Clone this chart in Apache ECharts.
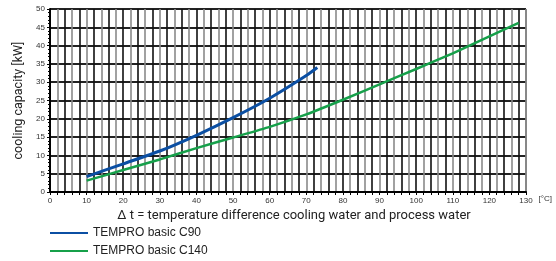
<!DOCTYPE html>
<html>
<head>
<meta charset="utf-8">
<script src="https://cdn.jsdelivr.net/npm/echarts@6/dist/echarts.min.js"></script>
<style>
html, body { margin: 0; padding: 0; background: #fff; }
#chart { width: 556px; height: 261px; }
</style>
</head>
<body>
<div id="chart"></div>
<script>
var chart = echarts.init(document.getElementById("chart"));

var seriesNames = ['TEMPRO basic C90', 'TEMPRO basic C140'];
var c90X = [10, 20, 30, 40, 50, 60, 70, 73];
var c90Y = [4.2, 7.7, 11.2, 15.5, 20.3, 25.6, 31.8, 34];
var c140X = [10, 20, 30, 40, 50, 60, 70, 80, 90, 100, 110, 120, 128];
var c140Y = [3.1, 6.0, 8.9, 12.0, 14.9, 17.8, 21.2, 25.2, 29.4, 33.6, 37.9, 42.5, 46.2];

function pairs(xs, ys) {
    var out = [];
    for (var i = 0; i < xs.length; i++) out.push([xs[i], ys[i]]);
    return out;
}

var labelFont = { fontFamily: 'Liberation Sans', fontSize: 8, color: '#333' };
var legendText = { fontFamily: 'Liberation Sans', fontSize: 12, color: '#222', padding: [0, 0, 0, 0] };

chart.setOption({
    animation: false,
    backgroundColor: '#fff',
    title: {
        text: '\u0394 t = temperature difference cooling water and process water',
        left: 289, top: 204, textAlign: 'center',
        textStyle: { fontFamily: 'Roboto', fontSize: 13, fontWeight: 'normal', color: '#222' }
    },
    legend: [
        { left: 45, top: 222, itemWidth: 38, itemHeight: 2, icon: 'rect', textStyle: legendText, data: [seriesNames[0]] },
        { left: 45, top: 240, itemWidth: 38, itemHeight: 2, icon: 'rect', textStyle: legendText, data: [seriesNames[1]] }
    ],
    grid: { left: 50, right: 30, top: 9, bottom: 69, show: true, borderColor: '#000', borderWidth: 1 },
    xAxis: {
        type: 'value', min: 0, max: 130, interval: 2,
        name: '[\u00b0C]', nameLocation: 'end', nameGap: 10,
        nameTextStyle: Object.assign({ verticalAlign: 'top', padding: [3, 0, 0, 0] }, labelFont),
        axisLine: { lineStyle: { color: '#000', width: 2 } },
        axisTick: { show: true, length: 3, lineStyle: { color: '#000' } },
        axisLabel: Object.assign({
            margin: 5,
            formatter: function (v) { return v % 10 === 0 ? String(v) : ''; }
        }, labelFont),
        splitLine: { show: true, lineStyle: { color: ['#111', '#8a8a8a'], width: 1.6 } }
    },
    yAxis: {
        type: 'value', min: 0, max: 50, interval: 5,
        name: 'cooling capacity [kW]', nameLocation: 'middle', nameGap: 25,
        nameTextStyle: { fontFamily: 'Roboto', fontSize: 12.5, color: '#222' },
        axisLine: { show: true, lineStyle: { color: '#000', width: 2 } },
        axisTick: { show: true, length: 3, lineStyle: { color: '#000' } },
        minorTick: { show: true, splitNumber: 5, length: 2, lineStyle: { color: '#000' } },
        axisLabel: Object.assign({ margin: 5 }, labelFont),
        splitLine: { show: true, lineStyle: { color: '#222', width: 2 } }
    },
    series: [
        {
            name: seriesNames[0], type: 'line', smooth: 0.2, showSymbol: false,
            data: pairs(c90X, c90Y),
            lineStyle: { color: '#0b4fa3', width: 3 }, itemStyle: { color: '#0b4fa3' }
        },
        {
            name: seriesNames[1], type: 'line', smooth: 0.2, showSymbol: false,
            data: pairs(c140X, c140Y),
            lineStyle: { color: '#16a04a', width: 2.5 }, itemStyle: { color: '#16a04a' }
        }
    ]
});
</script>
</body>
</html>
